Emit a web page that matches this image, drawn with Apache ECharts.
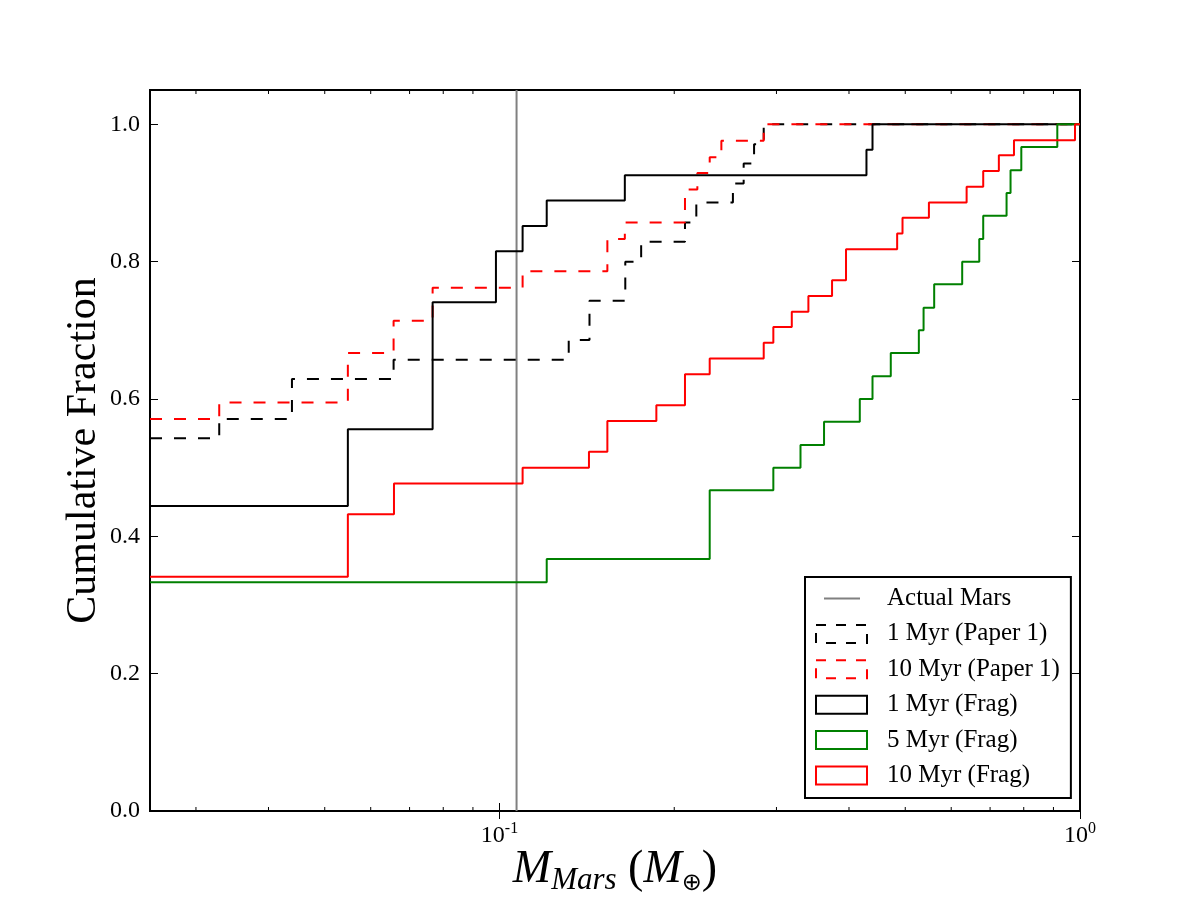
<!DOCTYPE html>
<html>
<head>
<meta charset="utf-8">
<script src="https://cdn.jsdelivr.net/npm/echarts@6/dist/echarts.min.js"></script>
<style>
  html, body { margin: 0; padding: 0; background: #fff; }
  #chart { width: 1200px; height: 900px; }
</style>
</head>
<body>
<div id="chart"></div>
<script>
// masses (M_earth) where each cumulative curve steps, and the level after the step
const marsMass = 0.107;

const p1Myr1X = [0.025, 0.0329, 0.0439, 0.0657, 0.1316, 0.1429, 0.1647, 0.1754, 0.2087, 0.2183, 0.2524, 0.2634, 0.2745, 0.2852, 1.0];
const p1Myr1Y = [0.543, 0.571, 0.629, 0.657, 0.686, 0.743, 0.8, 0.829, 0.857, 0.886, 0.914, 0.943, 0.971, 1.0, 1.0];

const p1Myr10X = [0.025, 0.0329, 0.0548, 0.0657, 0.0767, 0.1096, 0.1534, 0.1644, 0.2087, 0.2192, 0.2302, 0.2411, 0.2852, 1.0];
const p1Myr10Y = [0.571, 0.595, 0.667, 0.714, 0.762, 0.786, 0.833, 0.857, 0.905, 0.929, 0.952, 0.976, 1.0, 1.0];

const fragMyr1X = [0.025, 0.0548, 0.0767, 0.0986, 0.1096, 0.1206, 0.1644, 0.4287, 0.4391, 1.0];
const fragMyr1Y = [0.444, 0.556, 0.741, 0.815, 0.852, 0.889, 0.926, 0.963, 1.0, 1.0];

const fragMyr5X = [0.025, 0.1206, 0.2302, 0.2963, 0.33, 0.3623, 0.4175, 0.4391, 0.4721, 0.5277, 0.5377, 0.5608, 0.6267, 0.6706, 0.6812, 0.7473, 0.7592, 0.7923, 0.9139, 1.0];
const fragMyr5Y = [0.333, 0.367, 0.467, 0.5, 0.533, 0.567, 0.6, 0.633, 0.667, 0.7, 0.733, 0.767, 0.8, 0.833, 0.867, 0.9, 0.933, 0.967, 1.0, 1.0];

const fragMyr10X = [0.025, 0.0548, 0.0658, 0.1096, 0.1426, 0.1534, 0.1863, 0.2087, 0.2302, 0.2852, 0.2963, 0.3188, 0.3405, 0.374, 0.3953, 0.4842, 0.4946, 0.5492, 0.6378, 0.6812, 0.7248, 0.7696, 0.9804, 1.0];
const fragMyr10Y = [0.341, 0.432, 0.477, 0.5, 0.523, 0.568, 0.591, 0.636, 0.659, 0.682, 0.705, 0.727, 0.75, 0.773, 0.818, 0.841, 0.864, 0.886, 0.909, 0.932, 0.955, 0.977, 1.0, 1.0];

const majorTicks = [0.1, 1.0];
const minorTicks = [0.03, 0.04, 0.05, 0.06, 0.07, 0.08, 0.09, 0.2, 0.3, 0.4, 0.5, 0.6, 0.7, 0.8, 0.9];

const X_MIN = 0.025, X_MAX = 1.0, Y_MAX = 1.05;
const FONT = 'Liberation Serif';

function pairs(xs, ys) {
  return xs.map((x, i) => [x, ys[i]]);
}

function stepSeries(name, xs, ys, color, dashed) {
  return {
    name: name,
    type: 'line',
    step: 'end',
    symbol: 'none',
    data: pairs(xs, ys),
    lineStyle: { color: color, width: 2, type: dashed ? [12, 12] : 'solid' },
    itemStyle: { color: color },
    z: 3
  };
}

const legendBox = (color, dashed) => ({
  icon: 'rect',
  itemStyle: { color: 'rgba(0,0,0,0)', borderColor: color, borderWidth: 2, borderType: dashed ? [10, 10] : 'solid' }
});

const tickStyle = { show: true, inside: true, length: 8, lineStyle: { color: '#000', width: 1 } };

const chart = echarts.init(document.getElementById('chart'));

chart.setOption({
  backgroundColor: '#fff',
  animation: false,
  grid: {
    left: 150, right: 120, top: 90, bottom: 89,
    outerBoundsMode: 'none',
    show: true, borderColor: '#000', borderWidth: 2, backgroundColor: 'transparent'
  },
  legend: {
    orient: 'vertical',
    left: 805,
    top: 577,
    padding: [9, 11, 10, 10],
    itemWidth: 51,
    itemHeight: 18,
    itemGap: 10.4,
    borderColor: '#000',
    borderWidth: 2,
    backgroundColor: '#fff',
    textStyle: { fontFamily: FONT, fontSize: 25, lineHeight: 18, color: '#000', padding: [0, 0, 0, 15] },
    data: [
      { name: 'Actual Mars', icon: 'path://M0,0L0.01,0M51,18L50.99,18M8,8H44V10H8Z', itemStyle: { color: '#808080' } },
      Object.assign({ name: '1 Myr (Paper 1)' }, legendBox('#000', true)),
      Object.assign({ name: '10 Myr (Paper 1)' }, legendBox('#ff0000', true)),
      Object.assign({ name: '1 Myr (Frag)' }, legendBox('#000', false)),
      Object.assign({ name: '5 Myr (Frag)' }, legendBox('#008000', false)),
      Object.assign({ name: '10 Myr (Frag)' }, legendBox('#ff0000', false))
    ]
  },
  xAxis: [
    {
      type: 'log',
      logBase: 10,
      min: X_MIN,
      max: X_MAX,
      name: '{m|M}{s|Mars}{p| (}{m|M}{o|⊕}{p|)}',
      nameLocation: 'middle',
      nameGap: 33,
      nameMoveOverlap: false,
      nameTextStyle: {
        rich: {
          m: { fontFamily: FONT, fontStyle: 'italic', fontSize: 46, lineHeight: 52, color: '#000' },
          s: { fontFamily: FONT, fontStyle: 'italic', fontSize: 31, lineHeight: 30, verticalAlign: 'bottom', color: '#000' },
          p: { fontFamily: FONT, fontSize: 46, lineHeight: 52, color: '#000' },
          o: { fontFamily: 'DejaVu Sans', fontSize: 24, lineHeight: 24, verticalAlign: 'bottom', color: '#000' }
        }
      },
      axisLine: { show: false },
      splitLine: { show: false },
      axisTick: Object.assign({ customValues: majorTicks }, tickStyle),
      axisLabel: {
        margin: 10,
        customValues: majorTicks,
        formatter: v => '{b|10}{e|' + Math.round(Math.log10(v)) + '}',
        rich: {
          b: { fontFamily: FONT, fontSize: 24, lineHeight: 30, color: '#000' },
          e: { fontFamily: FONT, fontSize: 16, lineHeight: 16, verticalAlign: 'top', color: '#000' }
        }
      }
    },
    {
      type: 'log',
      logBase: 10,
      position: 'top',
      min: X_MIN,
      max: X_MAX,
      axisLine: { show: false },
      splitLine: { show: false },
      axisLabel: { show: false },
      axisTick: Object.assign({ customValues: majorTicks }, tickStyle)
    }
  ],
  yAxis: [
    {
      type: 'value',
      min: 0,
      max: Y_MAX,
      interval: 0.2,
      name: 'Cumulative Fraction',
      nameLocation: 'middle',
      nameGap: 45,
      nameMoveOverlap: false,
      nameTextStyle: { fontFamily: FONT, fontSize: 42, color: '#000' },
      axisLine: { show: false },
      splitLine: { show: false },
      axisTick: tickStyle,
      axisLabel: {
        margin: 10,
        fontFamily: FONT,
        fontSize: 24,
        color: '#000',
        formatter: v => v > 1.0001 ? '' : v.toFixed(1)
      }
    },
    {
      type: 'value',
      position: 'right',
      min: 0,
      max: Y_MAX,
      interval: 0.2,
      axisLine: { show: false },
      splitLine: { show: false },
      axisLabel: { show: false },
      axisTick: tickStyle
    }
  ],
  series: [
    {
      name: 'Actual Mars',
      type: 'line',
      symbol: 'none',
      data: [[marsMass, 0], [marsMass, Y_MAX]],
      lineStyle: { color: '#808080', width: 2 },
      itemStyle: { color: '#808080' },
      z: 2
    },
    stepSeries('1 Myr (Paper 1)', p1Myr1X, p1Myr1Y, '#000', true),
    stepSeries('10 Myr (Paper 1)', p1Myr10X, p1Myr10Y, '#ff0000', true),
    stepSeries('1 Myr (Frag)', fragMyr1X, fragMyr1Y, '#000', false),
    stepSeries('5 Myr (Frag)', fragMyr5X, fragMyr5Y, '#008000', false),
    stepSeries('10 Myr (Frag)', fragMyr10X, fragMyr10Y, '#ff0000', false),
    {
      // minor log ticks, bottom and top, pointing inward
      type: 'custom',
      silent: true,
      data: minorTicks.map(v => [v, 0]),
      encode: { x: 0, y: 1 },
      renderItem: (params, api) => {
        const bot = api.coord([api.value(0), 0]);
        const top = api.coord([api.value(0), Y_MAX]);
        return {
          type: 'group',
          children: [
            { type: 'line', shape: { x1: bot[0], y1: bot[1], x2: bot[0], y2: bot[1] - 4 }, style: { stroke: '#000', lineWidth: 1 } },
            { type: 'line', shape: { x1: top[0], y1: top[1], x2: top[0], y2: top[1] + 4 }, style: { stroke: '#000', lineWidth: 1 } }
          ]
        };
      },
      z: 1
    }
  ]
});
</script>
</body>
</html>
